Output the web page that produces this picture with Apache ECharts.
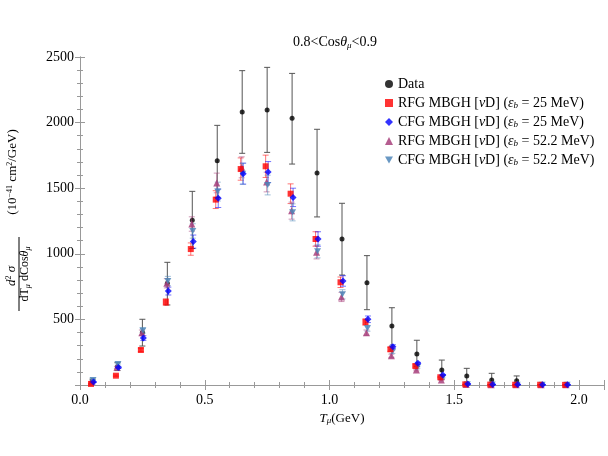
<!DOCTYPE html>
<html>
<head>
<meta charset="utf-8">
<script src="https://cdn.jsdelivr.net/npm/echarts@6/dist/echarts.min.js"></script>
<style>
  html, body { margin: 0; padding: 0; background: #fff; }
  #chart { width: 608px; height: 456px; }
</style>
</head>
<body>
<div id="chart"></div>
<script>
// bin centres (GeV)
const tBins = [0.05, 0.15, 0.25, 0.35, 0.45, 0.55, 0.65, 0.75, 0.85, 0.95,
               1.05, 1.15, 1.25, 1.35, 1.45, 1.55, 1.65, 1.75, 1.85, 1.95];

// measured cross section with lower / upper error bar ends
const dataVal = [30, 140, 400, 775, 1255, 1710, 2081, 2096, 2033, 1616, 1113, 780, 450, 236, 114, 69, 38, 33];
const dataLo  = [20, 110, 297, 610, 1040, 1430, 1766, 1773, 1684, 1281, 838, 574, 297, 140, 45, 15, 0, 5];
const dataHi  = [45, 170, 501, 935, 1476, 1979, 2396, 2421, 2375, 1949, 1385, 986, 589, 341, 190, 127, 89, 69];

// model predictions
const rfg25 = [8, 71, 267, 632, 1036, 1413, 1646, 1667, 1458, 1113, 783, 480, 272, 145, 59, 5, 3, 2, 2, 1];
const cfg25 = [22, 133, 358, 716, 1093, 1423, 1611, 1623, 1430, 1113, 793, 501, 292, 165, 76, 8, 4, 3, 2, 1];
const rfg52 = [28, 135, 399, 775, 1227, 1540, 1659, 1547, 1329, 1011, 671, 399, 223, 114, 38, 3, 2, 1, 1, 1];
const cfg52 = [38, 160, 416, 793, 1174, 1474, 1610, 1524, 1316, 1019, 691, 432, 254, 135, 56, 5, 3, 2, 1, 1];

// model error half widths
const rfg25Err = [2, 5, 13, 25, 47, 68, 85, 85, 75, 55, 40, 25, 15, 8, 4, 1, 1, 1, 1, 1];
const cfg25Err = [2, 7, 18, 30, 50, 70, 80, 80, 70, 55, 40, 25, 15, 8, 4, 1, 1, 1, 1, 1];
const rfg52Err = [2, 7, 20, 35, 55, 75, 80, 75, 65, 50, 35, 20, 12, 6, 3, 1, 1, 1, 1, 1];
const cfg52Err = [2, 8, 20, 35, 55, 72, 80, 75, 65, 50, 35, 22, 13, 7, 3, 1, 1, 1, 1, 1];

const FONT = 'Liberation Serif';

const colors = {
  data: '#000000',
  rfg25: '#ff0000',
  cfg25: '#0000ff',
  rfg52: '#a8417c',
  cfg52: '#4f86b8'
};

const legendLabels = {
  'Data': 'Data',
  'RFG25': 'RFG MBGH [{it|ν}D] ({it|ε}{sub|b} = 25 MeV)',
  'CFG25': 'CFG MBGH [{it|ν}D] ({it|ε}{sub|b} = 25 MeV)',
  'RFG52': 'RFG MBGH [{it|ν}D] ({it|ε}{sub|b} = 52.2 MeV)',
  'CFG52': 'CFG MBGH [{it|ν}D] ({it|ε}{sub|b} = 52.2 MeV)'
};

const invTriangle = 'path://M0,0 L10,0 L5,9 Z';

function points(xs, ys, dx) {
  return ys.map((y, i) => [xs[i] + dx, y]);
}

function errBars(name, xs, dx, lo, hi, color, opacity, z) {
  return {
    name: name,
    type: 'custom',
    silent: true,
    z: z,
    data: lo.map((l, i) => [xs[i] + dx, l, hi[i]]),
    renderItem: function (params, api) {
      const x = api.value(0);
      const a = api.coord([x, api.value(1)]);
      const b = api.coord([x, api.value(2)]);
      const w = 3;
      const style = { stroke: color, lineWidth: 1, opacity: opacity };
      return {
        type: 'group',
        children: [
          { type: 'line', shape: { x1: a[0], y1: a[1], x2: b[0], y2: b[1] }, style: style },
          { type: 'line', shape: { x1: a[0] - w, y1: a[1], x2: a[0] + w, y2: a[1] }, style: style },
          { type: 'line', shape: { x1: b[0] - w, y1: b[1], x2: b[0] + w, y2: b[1] }, style: style }
        ]
      };
    }
  };
}

function modelErr(name, vals, errs, dx, color) {
  return errBars(name, tBins, dx, vals.map((v, i) => v - errs[i]), vals.map((v, i) => v + errs[i]), color, 0.55, 3);
}

const chart = echarts.init(document.getElementById('chart'));

const axisCommon = {
  axisLine: { show: true, lineStyle: { color: '#999' } },
  axisTick: { inside: true, length: 5, lineStyle: { color: '#999' } },
  minorTick: { show: true, splitNumber: 5, length: 3, lineStyle: { color: '#999' } },
  splitLine: { show: false }
};

const option = {
  animation: false,
  textStyle: { fontFamily: FONT },
  title: {
    text: '0.8<Cos{it|θ}{sub|μ}<0.9',
    left: 330,
    top: 30,
    textAlign: 'center',
    textStyle: {
      fontFamily: FONT, fontSize: 14, fontWeight: 'normal', color: '#000',
      rich: {
        it: { fontFamily: FONT, fontSize: 14, fontStyle: 'italic' },
        sub: { fontFamily: FONT, fontSize: 9, fontStyle: 'italic', verticalAlign: 'bottom', padding: [6, 0, 0, 0] }
      }
    }
  },
  grid: { left: 80, right: 4, top: 57, bottom: 71 },
  legend: {
    orient: 'vertical',
    left: 380,
    top: 72,
    itemWidth: 8,
    itemHeight: 8,
    itemGap: 5,
    data: [
      { name: 'Data', icon: 'circle' },
      { name: 'RFG25', icon: 'rect' },
      { name: 'CFG25', icon: 'diamond' },
      { name: 'RFG52', icon: 'triangle' },
      { name: 'CFG52', icon: invTriangle }
    ],
    formatter: function (name) { return legendLabels[name]; },
    textStyle: {
      fontFamily: FONT, fontSize: 14, color: '#000', lineHeight: 14,
      rich: {
        it: { fontFamily: FONT, fontSize: 14, fontStyle: 'italic' },
        sub: { fontFamily: FONT, fontSize: 9, fontStyle: 'italic', verticalAlign: 'bottom', padding: [5, 0, 0, 0] }
      }
    }
  },
  xAxis: [
    Object.assign({
      type: 'value', min: 0, max: 2.1, interval: 0.5, position: 'bottom',
      name: '{it|T}{sub|μ}(GeV)',
      nameLocation: 'middle', nameGap: 24,
      nameTextStyle: {
        fontFamily: FONT, fontSize: 13, color: '#000',
        rich: {
          it: { fontFamily: FONT, fontSize: 13, fontStyle: 'italic' },
          sub: { fontFamily: FONT, fontSize: 9, fontStyle: 'italic', verticalAlign: 'bottom', padding: [5, 0, 0, 0] }
        }
      },
      axisLabel: {
        fontFamily: FONT, fontSize: 14, color: '#000', margin: 8, showMaxLabel: false,
        formatter: v => v.toFixed(1)
      }
    }, axisCommon),
    Object.assign({
      type: 'value', min: 0, max: 2.1, interval: 0.5, position: 'top',
      axisLabel: { show: false }
    }, axisCommon)
  ],
  yAxis: [
    Object.assign({
      type: 'value', min: 0, max: 2500, interval: 500, position: 'left',
      axisLabel: {
        fontFamily: FONT, fontSize: 14, color: '#000', margin: 6,
        formatter: v => (v === 0 ? '' : String(v))
      }
    }, axisCommon),
    Object.assign({
      type: 'value', min: 0, max: 2500, interval: 500, position: 'right',
      axisLabel: { show: false }
    }, axisCommon)
  ],
  graphic: [
    {
      type: 'text', x: 12, y: 276, rotation: Math.PI / 2,
      style: {
        text: '{it|d}{sup|2}{it| σ}', textAlign: 'center', textVerticalAlign: 'middle',
        font: '13px ' + FONT, fill: '#000',
        rich: {
          it: { fontFamily: FONT, fontSize: 13, fontStyle: 'italic' },
          sup: { fontFamily: FONT, fontSize: 8, verticalAlign: 'top', padding: [0, 0, 6, 0] }
        }
      }
    },
    {
      type: 'line', shape: { x1: 19, y1: 237, x2: 19, y2: 311 },
      style: { stroke: '#000', lineWidth: 1 }
    },
    {
      type: 'text', x: 25, y: 274, rotation: Math.PI / 2,
      style: {
        text: 'dT{sub|μ} dCos{it|θ}{sub|μ}', textAlign: 'center', textVerticalAlign: 'middle',
        font: '12px ' + FONT, fill: '#000',
        rich: {
          it: { fontFamily: FONT, fontSize: 12, fontStyle: 'italic' },
          sub: { fontFamily: FONT, fontSize: 8, fontStyle: 'italic', verticalAlign: 'bottom', padding: [5, 0, 0, 0] }
        }
      }
    },
    {
      type: 'text', x: 13, y: 172, rotation: Math.PI / 2,
      style: {
        text: '(10{sup|−41} cm{sup|2}/GeV)', textAlign: 'center', textVerticalAlign: 'middle',
        font: '13px ' + FONT, fill: '#000',
        rich: {
          sup: { fontFamily: FONT, fontSize: 8, verticalAlign: 'top', padding: [0, 0, 6, 0] }
        }
      }
    }
  ],
  series: [
    errBars('dataErr', tBins, 0, dataLo, dataHi, '#555', 1, 1),
    {
      name: 'Data', type: 'scatter', z: 2, symbol: 'circle', symbolSize: 5,
      itemStyle: { color: colors.data },
      data: points(tBins, dataVal, 0)
    },
    modelErr('rfg25Err', rfg25, rfg25Err, -0.006, colors.rfg25),
    modelErr('cfg25Err', cfg25, cfg25Err, 0.004, colors.cfg25),
    modelErr('rfg52Err', rfg52, rfg52Err, -0.002, colors.rfg52),
    modelErr('cfg52Err', cfg52, cfg52Err, 0.002, colors.cfg52),
    {
      name: 'RFG52', type: 'scatter', z: 4, symbol: 'triangle', symbolSize: 7,
      itemStyle: { color: colors.rfg52, opacity: 0.85 },
      data: points(tBins, rfg52, -0.002)
    },
    {
      name: 'CFG52', type: 'scatter', z: 4, symbol: invTriangle, symbolSize: [7, 6],
      itemStyle: { color: colors.cfg52, opacity: 0.85 },
      data: points(tBins, cfg52, 0.002)
    },
    {
      name: 'RFG25', type: 'scatter', z: 5, symbol: 'rect', symbolSize: 6,
      itemStyle: { color: colors.rfg25 },
      data: points(tBins, rfg25, -0.006)
    },
    {
      name: 'CFG25', type: 'scatter', z: 5, symbol: 'diamond', symbolSize: 7,
      itemStyle: { color: colors.cfg25 },
      data: points(tBins, cfg25, 0.004)
    }
  ]
};

chart.setOption(option);
</script>
</body>
</html>
